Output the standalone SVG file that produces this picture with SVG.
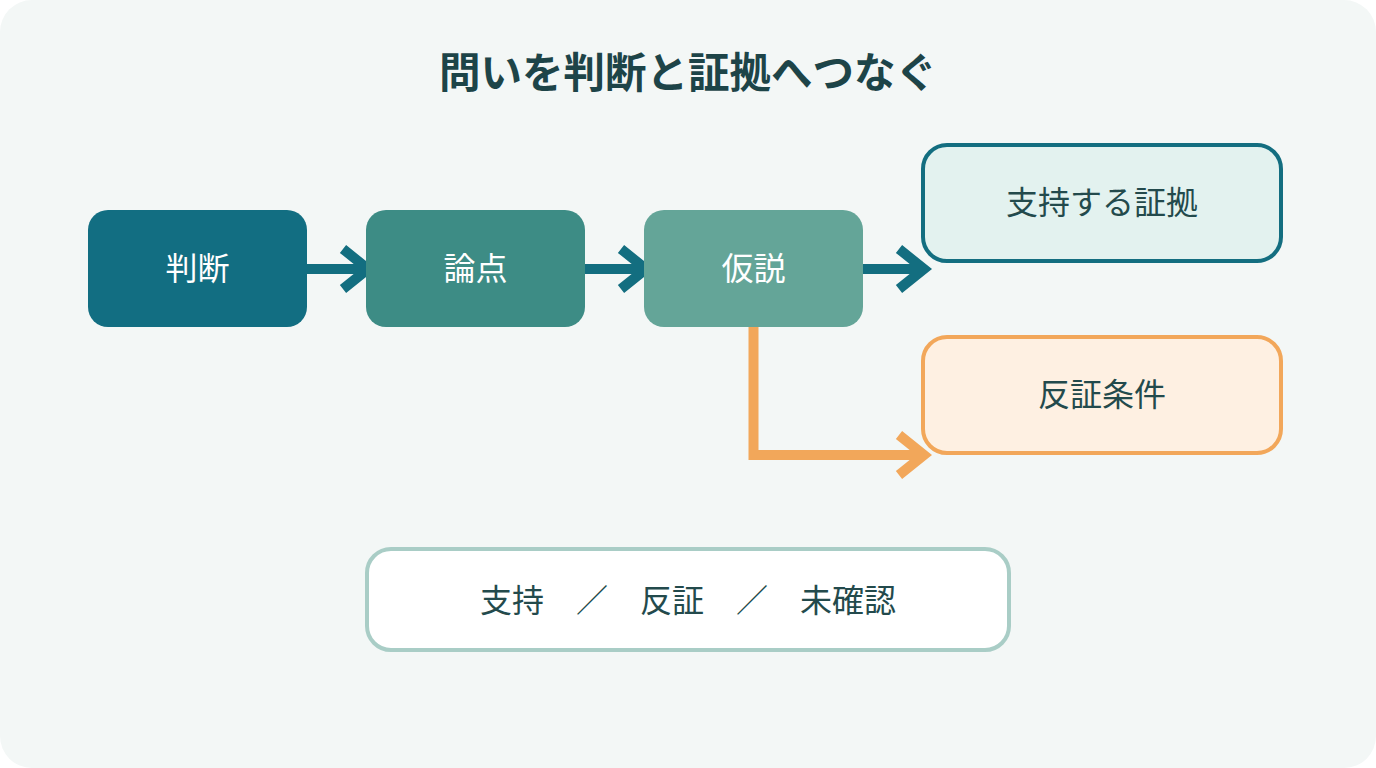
<svg xmlns="http://www.w3.org/2000/svg" width="1376" height="768" viewBox="0 0 1376 768">
<style>
text{font-family:"Noto Sans CJK JP","Noto Sans",sans-serif;text-anchor:middle}
.t{font-size:41.5px;font-weight:700;fill:#1d4448}
.w{font-size:32px;fill:#ffffff}
.d{font-size:32px;fill:#234a4c}
.ln{fill:none;stroke-width:10;stroke-linejoin:miter}
.blue{stroke:#136e80}
.orange{stroke:#f2a75a}
</style>
<rect x="0" y="0" width="1376" height="768" rx="32" fill="#f3f7f6"/>
<text class="t" x="688" y="88">問いを判断と証拠へつなぐ</text>
<g id="connectors">
<path class="ln blue" d="M307 269H368M343 249L368 269L343 289"/>
<path class="ln blue" d="M585 269H646M621 249L646 269L621 289"/>
<path class="ln blue" d="M863 269H924M899 249L924 269L899 289"/>
<path class="ln orange" d="M753.5 327V455H924M899 435L924 455L899 475"/>
</g>
<g id="n1"><rect x="88" y="210" width="219" height="117" rx="20" fill="#126e82"/><text class="w" x="197.5" y="280">判断</text></g>
<g id="n2"><rect x="366" y="210" width="219" height="117" rx="20" fill="#3d8c85"/><text class="w" x="475.5" y="280">論点</text></g>
<g id="n3"><rect x="644" y="210" width="219" height="117" rx="20" fill="#64a598"/><text class="w" x="753.5" y="280">仮説</text></g>
<g id="n4"><rect x="923" y="145" width="358" height="116" rx="24" fill="#e3f2ef" stroke="#136e80" stroke-width="4"/><text class="d" x="1102" y="214">支持する証拠</text></g>
<g id="n5"><rect x="923" y="337" width="358" height="116" rx="24" fill="#fef0e2" stroke="#f2a75a" stroke-width="4"/><text class="d" x="1102" y="406">反証条件</text></g>
<g id="n6"><rect x="367" y="549" width="642" height="101" rx="24" fill="#ffffff" stroke="#a9cdc6" stroke-width="4"/><text class="d" x="688" y="612">支持　／　反証　／　未確認</text></g>
</svg>
